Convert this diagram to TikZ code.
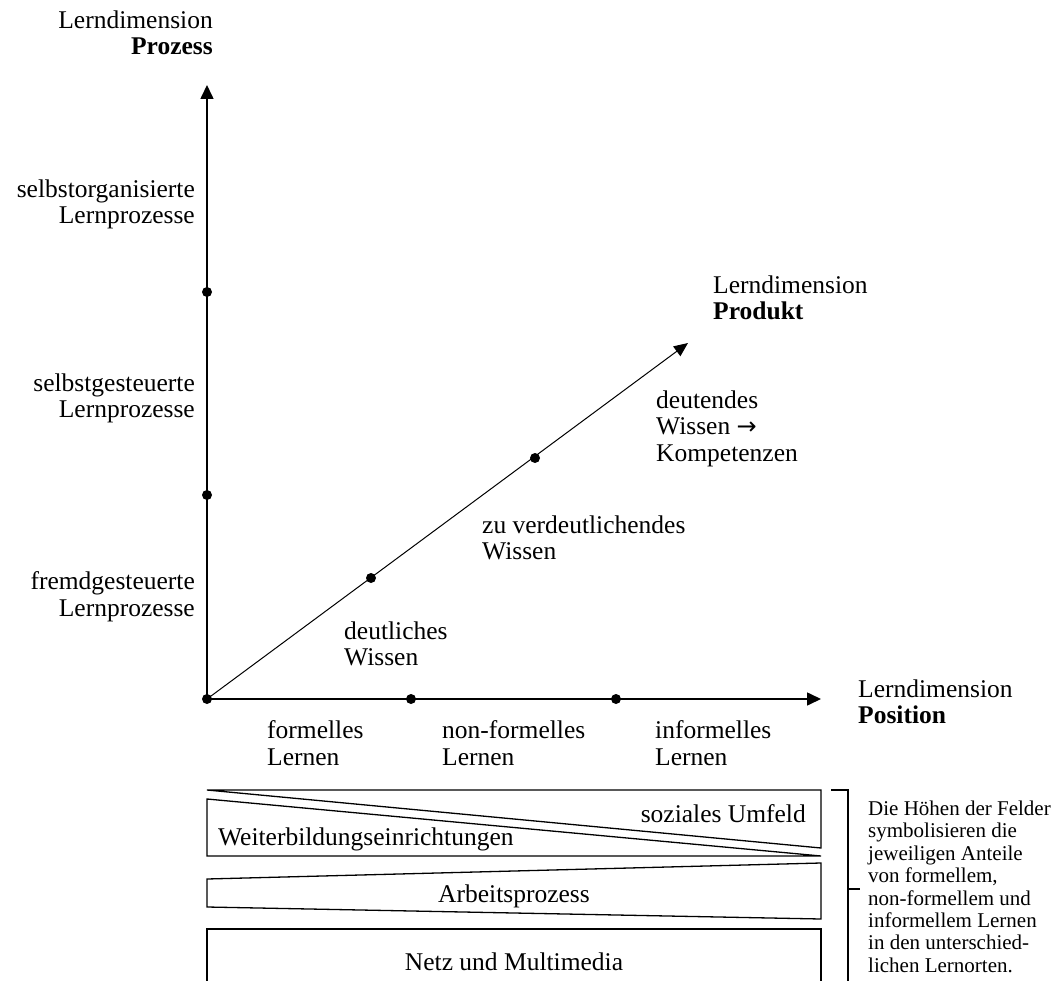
\documentclass[tikz,border=0pt]{standalone}
\usepackage{fontspec}
\setmainfont{Liberation Serif}
\newfontfamily\arrowfont{DejaVu Sans}
\usetikzlibrary{arrows.meta}
\begin{document}
\begin{tikzpicture}[x=1pt,y=-1pt,
  lbl/.style={inner sep=0pt, font=\fontsize{25.5}{26.5}\selectfont},
  side/.style={inner sep=0pt, align=left, font=\fontsize{21}{22.4}\selectfont},
  dot/.style={circle, fill=black, inner sep=0pt, minimum size=10pt},
  axis/.style={line width=1.6pt, -{Triangle[length=14pt,width=13pt]}},
  diag/.style={line width=1pt, -{Triangle[length=14pt,width=12pt]}},
  band/.style={line width=1.3pt, line join=miter},
  brack/.style={line width=1.2pt}]
\useasboundingbox (0,0) rectangle (1062,981);
% axes
\coordinate (O) at (207,699);
\coordinate (Ytip) at (207,85);
\coordinate (Xtip) at (821,699);
\coordinate (Ztip) at (688,343);
\draw[axis] (O) -- (Ytip);
\draw[axis] (O) -- (Xtip);
\draw[diag] (O) -- (Ztip);
% dots
\node[dot] (d0) at (O) {};
\node[dot] (y1) at (207,495) {};
\node[dot] (y2) at (207,292) {};
\node[dot] (x1) at (411,699) {};
\node[dot] (x2) at (616,699) {};
\node[dot] (z1) at (371,578) {};
\node[dot] (z2) at (535,458) {};
% axis titles
\node[lbl, align=right, anchor=north east] (tProz) at (213,10.6) {Lerndimension\\\textbf{Prozess}};
\node[lbl, align=left, anchor=north west] (tProd) at (713,275.6) {Lerndimension\\\textbf{Produkt}};
\node[lbl, align=left, anchor=north west] (tPos) at (858,679.6) {Lerndimension\\\textbf{Position}};
% vertical labels
\node[lbl, align=right, anchor=north east] (v3) at (195,179.6) {selbstorganisierte\\Lernprozesse};
\node[lbl, align=right, anchor=north east] (v2) at (195,373.6) {selbstgesteuerte\\Lernprozesse};
\node[lbl, align=right, anchor=north east] (v1) at (195,571.6) {fremdgesteuerte\\Lernprozesse};
% diagonal labels
\node[lbl, align=left, anchor=north west] (p1) at (344,621.6) {deutliches\\Wissen};
\node[lbl, align=left, anchor=north west] (p2) at (482,515.6) {zu verdeutlichendes\\Wissen};
\node[lbl, align=left, anchor=north west] (p3) at (656,390.6) {deutendes\\Wissen {\arrowfont\fontsize{24}{26.5}\selectfont →}\\Kompetenzen};
% horizontal labels
\node[lbl, align=left, anchor=north west] (h1) at (267,720.6) {formelles\\Lernen};
\node[lbl, align=left, anchor=north west] (h2) at (442,720.6) {non-formelles\\Lernen};
\node[lbl, align=left, anchor=north west] (h3) at (655,720.6) {informelles\\Lernen};
% bands
\draw[band] (207,790) -- (821,790) -- (821,848) -- cycle;
\draw[band] (207,799) -- (821,856) -- (207,856) -- cycle;
\draw[band] (207,879) -- (821,863) -- (821,919) -- (207,907) -- cycle;
\draw[band] (207,995) -- (207,929) -- (821,929) -- (821,995);
\node[lbl, anchor=base east] (bSoz) at (806,822) {soziales Umfeld};
\node[lbl, anchor=base west] (bWeit) at (218,845) {Weiterbildungseinrichtungen};
\node[lbl, anchor=base] (bArb) at (514,902) {Arbeitsprozess};
\node[lbl, anchor=base] (bNetz) at (514,970) {Netz und Multimedia};
% bracket and note
\draw[brack] (831,790) -- (848,790) -- (848,995);
\draw[brack] (848,889) -- (860,889);
\node[side, anchor=north west] (note) at (868,800.7) {Die Höhen der Felder\\symbolisieren die\\jeweiligen Anteile\\von formellem,\\non-formellem und\\informellem Lernen\\in den unterschied-\\lichen Lernorten.};
\end{tikzpicture}
\end{document}
